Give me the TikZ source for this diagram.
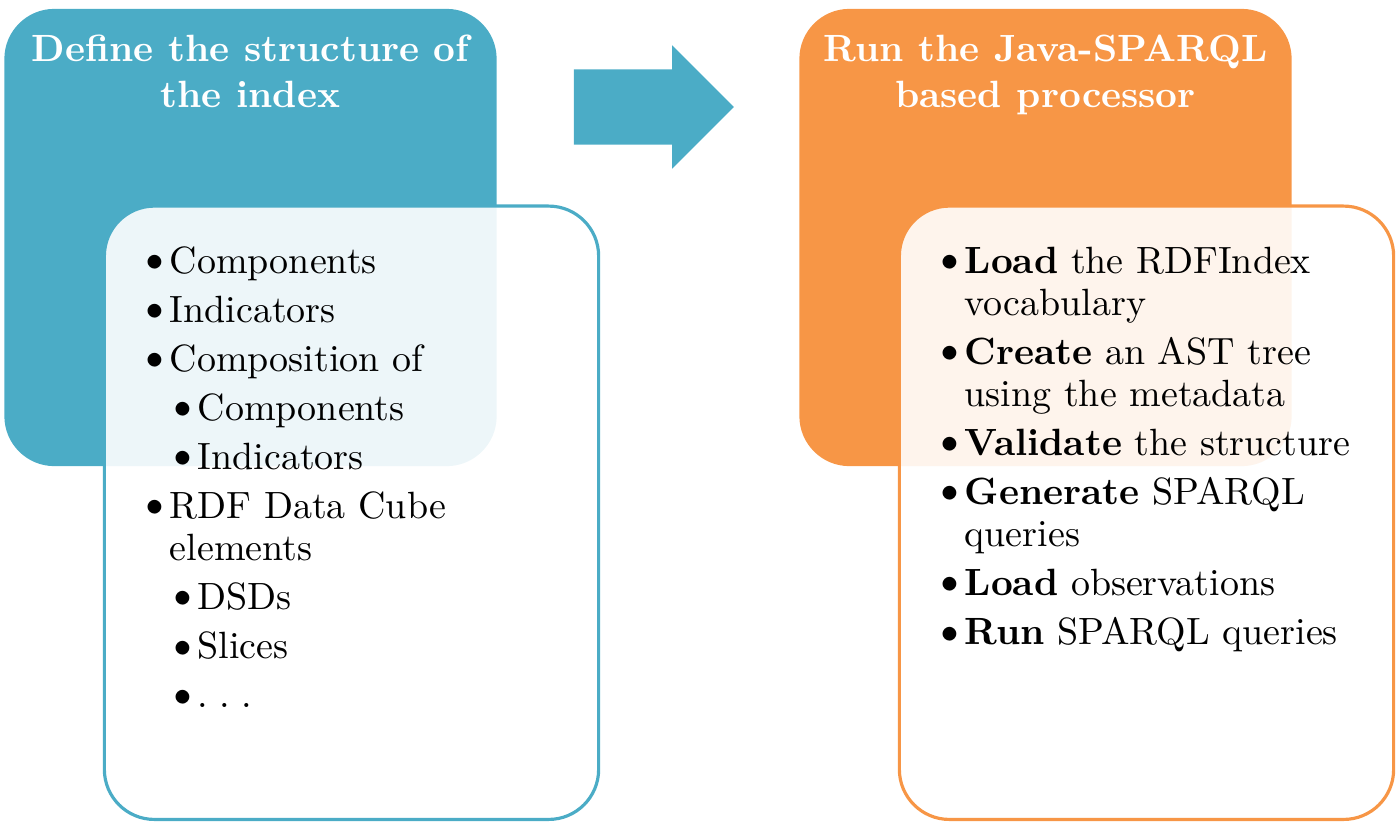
\documentclass[tikz,border=0pt]{standalone}
\usetikzlibrary{shapes.arrows}
\definecolor{tealbox}{HTML}{4BACC6}
\definecolor{orangebox}{HTML}{F79646}
\newcommand{\bigbullet}{\raisebox{-0.3pt}{\fontsize{14.5}{0}\selectfont\textbullet}}
\newcommand{\itm}[2][0cm]{\par\hangindent=\dimexpr#1+0.28cm\relax\hangafter=1\noindent\hspace*{#1}\makebox[0.28cm][l]{\hspace{-0.06cm}\bigbullet}#2\par\vspace{0.07cm}}

\begin{document}
\begin{tikzpicture}[x=0.01cm,y=-0.01cm,
    topbox/.style={rectangle,rounded corners=0.5cm,inner sep=0pt,minimum width=4.92cm,minimum height=4.57cm},
    listbox/.style={rectangle,rounded corners=0.5cm,inner sep=0pt,draw,line width=0.9pt,fill=white,fill opacity=0.9,minimum width=4.94cm,minimum height=6.13cm},
    titletext/.style={text=white,inner sep=0pt,align=center,anchor=north,font=\fontsize{10.8}{13.1}\selectfont\bfseries},
    listtext/.style={inner sep=0pt,text width=4.6cm,align=left,anchor=north west,font=\fontsize{10.8}{11.95}\selectfont}]
      \useasboundingbox (0,0) rectangle (1397,827);
      \node[topbox,fill=tealbox] (deftop) at (250.5,237.5) {};
      \node[topbox,fill=orangebox] (runtop) at (1045.5,237.5) {};
      \node[single arrow,fill=tealbox,inner sep=0.37cm,single arrow head extend=0.24cm,minimum height=1.6cm] (steparrow) at (635,107) {};
      \node[listbox,draw=tealbox] (deflist) at (351.5,512.75) {};
      \node[listbox,draw=orangebox] (runlist) at (1146.5,512.75) {};
      \node[titletext] (deftitle) at ([yshift=-0.26cm]deftop.north) {Define the structure of\\the index};
      \node[titletext] (runtitle) at ([yshift=-0.26cm]runtop.north) {Run the Java-SPARQL\\based processor};
      \node[listtext] (defitems) at (141,231) {
        \itm{Components}
        \itm{Indicators}
        \itm{Composition of}
        \itm[0.28cm]{Components}
        \itm[0.28cm]{Indicators}
        \itm{RDF Data Cube\newline elements}
        \itm[0.28cm]{DSDs}
        \itm[0.28cm]{Slices}
        \itm[0.28cm]{.\kern0.3em.\kern0.3em.}};
      \node[listtext] (runitems) at (936,231) {
        \itm{\textbf{Load} the RDFIndex\newline vocabulary}
        \itm{\textbf{Create} an AST tree\newline using the metadata}
        \itm{\textbf{Validate} the structure}
        \itm{\textbf{Generate} SPARQL\newline queries}
        \itm{\textbf{Load} observations}
        \itm{\textbf{Run} SPARQL queries}};
\end{tikzpicture}
\end{document}
